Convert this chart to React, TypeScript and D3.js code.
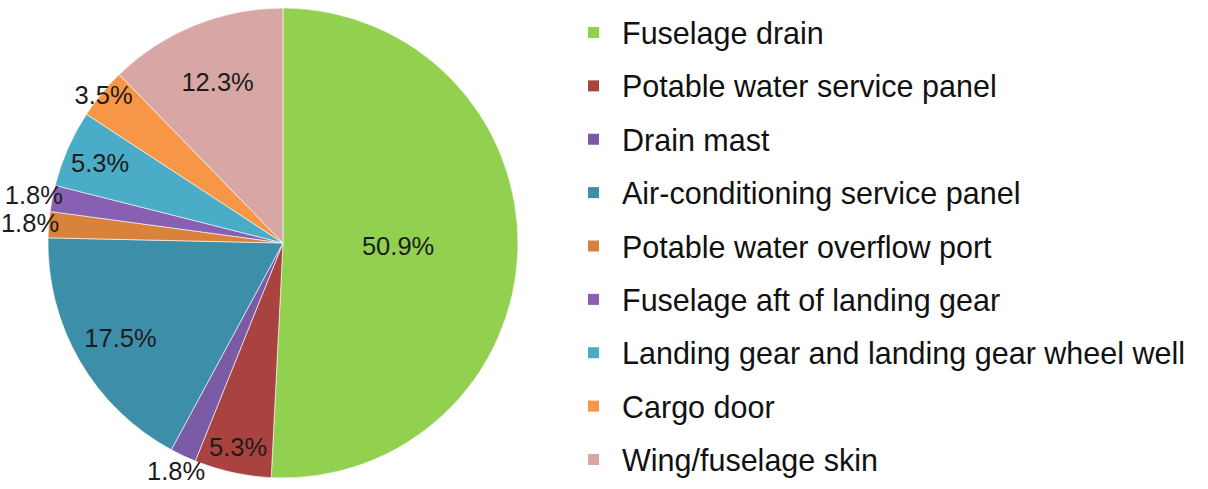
import * as React from 'react'
import * as d3 from 'd3'

const WIDTH = 1208
const HEIGHT = 489
const CX = 283
const CY = 243
const RADIUS = 235

// data
const categories = [
  'Fuselage drain',
  'Potable water service panel',
  'Drain mast',
  'Air-conditioning service panel',
  'Potable water overflow port',
  'Fuselage aft of landing gear',
  'Landing gear and landing gear wheel well',
  'Cargo door',
  'Wing/fuselage skin'
]
const shares = [50.9, 5.3, 1.8, 17.5, 1.8, 1.8, 5.3, 3.5, 12.3]
const sliceColors = [
  '#92d050',
  '#a9433f',
  '#7c5ba6',
  '#3d8ea8',
  '#d9823b',
  '#8760b4',
  '#4aacc6',
  '#f79646',
  '#d9a6a6'
]

// where each percentage sits, as a fraction of the radius
const labelRadius = [0.49, 0.89, 1.07, 0.8, 1.08, 1.08, 0.85, 0.99, 0.74]

const FONT = '"Liberation Sans", Arial, sans-serif'

interface Slice {
  name: string
  value: number
  color: string
  k: number
}

export default function App() {
  const data: Slice[] = categories.map((name, i) => ({
    name,
    value: shares[i],
    color: sliceColors[i],
    k: labelRadius[i]
  }))

  const pie = d3
    .pie<Slice>()
    .value(d => d.value)
    .sort(null)
  const arcs = pie(data)
  const arc = d3.arc<d3.PieArcDatum<Slice>>().innerRadius(0).outerRadius(RADIUS)

  const legendY = d3
    .scalePoint<string>()
    .domain(categories)
    .range([33, 460])

  return (
    <svg
      width={WIDTH}
      height={HEIGHT}
      style={{ position: 'absolute', left: 0, top: 0, background: '#fff' }}
    >
      <g transform={`translate(${CX},${CY})`}>
        {arcs.map((a, i) => (
          <path key={i} d={arc(a) || ''} fill={a.data.color} stroke="#fff" strokeWidth={0.6} />
        ))}
        {arcs.map((a, i) => {
          const mid = (a.startAngle + a.endAngle) / 2
          const r = RADIUS * a.data.k
          const x = Math.sin(mid) * r
          const y = -Math.cos(mid) * r
          return (
            <text
              key={'l' + i}
              x={x}
              y={y}
              textAnchor="middle"
              dominantBaseline="central"
              fontFamily={FONT}
              fontSize={25.5}
              fill="#1c1c1c"
            >
              {a.data.value.toFixed(1)}%
            </text>
          )
        })}
      </g>
      <g>
        {data.map((d, i) => (
          <g key={i} transform={`translate(588,${legendY(d.name)})`}>
            <rect x={0} y={-6} width={11} height={11} fill={d.color} />
            <text
              x={34}
              y={0}
              dominantBaseline="central"
              fontFamily={FONT}
              fontSize={30.5}
              fill="#111"
            >
              {d.name}
            </text>
          </g>
        ))}
      </g>
    </svg>
  )
}
